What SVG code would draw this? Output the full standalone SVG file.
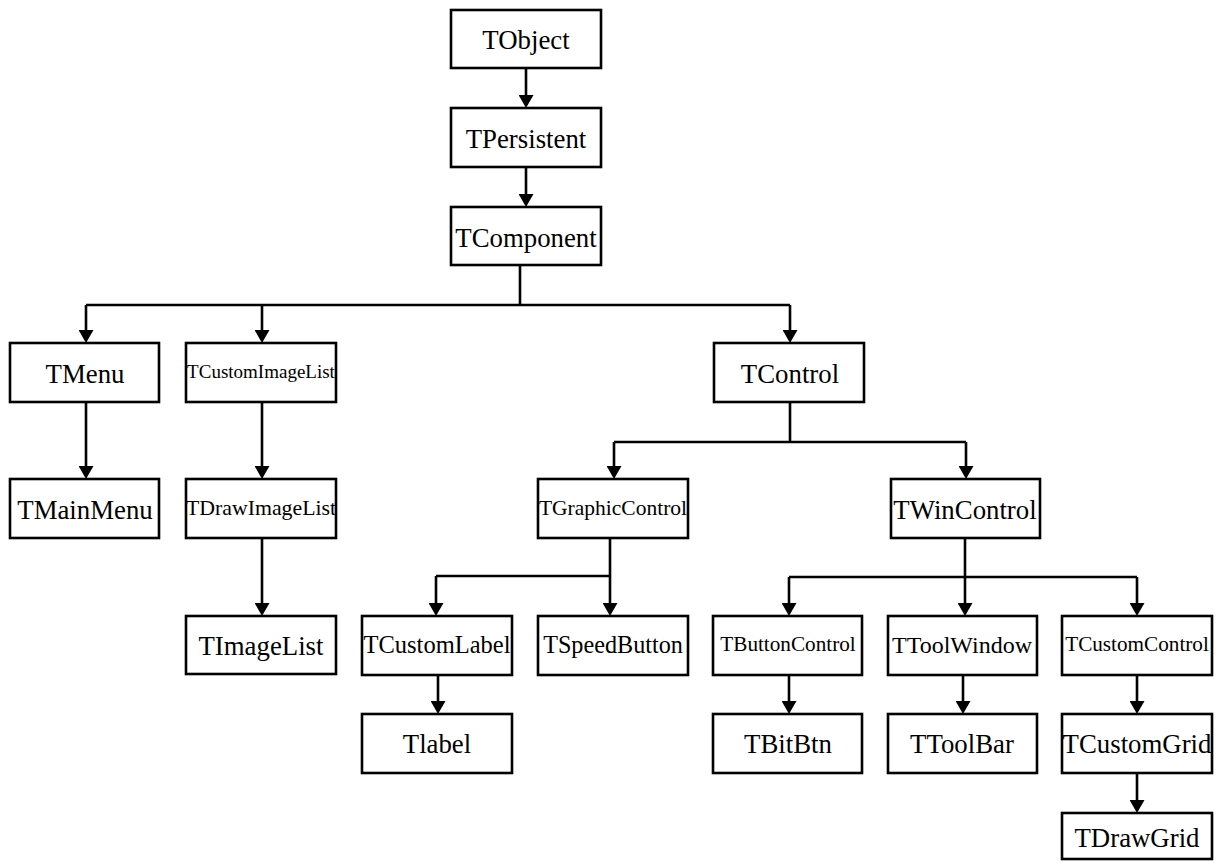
<svg xmlns="http://www.w3.org/2000/svg" width="1219" height="867" viewBox="0 0 1219 867">
  <style>
    .box { fill: #ffffff; stroke: #000000; stroke-width: 2.6; }
    .lbl { font-family: "Liberation Serif", "Times New Roman", serif; fill: #000000; text-anchor: middle; font-size: 26.8px; }
    .wire { fill: none; stroke: #000000; stroke-width: 2.6; }
    .arr { marker-end: url(#head); }
  </style>
  <defs>
    <!-- arrow tip lands 6px beyond the end of its line -->
    <marker id="head" viewBox="0 0 13 15" refX="7" refY="7.5" markerWidth="13" markerHeight="15" markerUnits="userSpaceOnUse" orient="auto">
      <path d="M0,0 L13,7.5 L0,15 Z" fill="#000000"/>
    </marker>
  </defs>
  <rect width="1219" height="867" fill="#ffffff"/>

  <!-- connectors -->
  <g id="connectors">
    <line class="wire arr" x1="526" y1="68" x2="526" y2="102"/>
    <line class="wire arr" x1="526" y1="167" x2="526" y2="201"/>

    <path class="wire" d="M520,265 V305 M86,305 H790"/>
    <line class="wire arr" x1="86" y1="305" x2="86" y2="337"/>
    <line class="wire arr" x1="262" y1="305" x2="262" y2="337"/>
    <line class="wire arr" x1="790" y1="305" x2="790" y2="337"/>

    <line class="wire arr" x1="86" y1="402" x2="86" y2="473"/>
    <line class="wire arr" x1="262" y1="402" x2="262" y2="473"/>
    <line class="wire arr" x1="262" y1="538" x2="262" y2="610"/>

    <path class="wire" d="M790,402 V442 M614,442 H966"/>
    <line class="wire arr" x1="614" y1="442" x2="614" y2="473"/>
    <line class="wire arr" x1="966" y1="442" x2="966" y2="473"/>

    <path class="wire" d="M436,576 H610"/>
    <line class="wire arr" x1="610" y1="538" x2="610" y2="610"/>
    <line class="wire arr" x1="436" y1="576" x2="436" y2="610"/>
    <line class="wire arr" x1="438" y1="675" x2="438" y2="708"/>

    <path class="wire" d="M789,577 H1137"/>
    <line class="wire arr" x1="965" y1="538" x2="965" y2="610"/>
    <line class="wire arr" x1="789" y1="577" x2="789" y2="610"/>
    <line class="wire arr" x1="1137" y1="577" x2="1137" y2="610"/>

    <line class="wire arr" x1="789" y1="675" x2="789" y2="708"/>
    <line class="wire arr" x1="963" y1="675" x2="963" y2="708"/>
    <line class="wire arr" x1="1137" y1="675" x2="1137" y2="708"/>
    <line class="wire arr" x1="1137" y1="773" x2="1137" y2="807"/>
  </g>

  <!-- class nodes -->
  <g id="n-tobject"><rect class="box" x="451" y="10" width="150" height="58"/><text class="lbl" x="526" y="49">TObject</text></g>
  <g id="n-tpersistent"><rect class="box" x="451" y="108" width="150" height="59"/><text class="lbl" x="526" y="148">TPersistent</text></g>
  <g id="n-tcomponent"><rect class="box" x="451" y="207" width="150" height="58"/><text class="lbl" x="526" y="247">TComponent</text></g>

  <g id="n-tmenu"><rect class="box" x="10" y="343" width="149" height="59"/><text class="lbl" x="85" y="383">TMenu</text></g>
  <g id="n-tcustomimagelist"><rect class="box" x="186" y="343" width="150" height="59"/><text class="lbl" x="261" y="378" style="font-size:19px">TCustomImageList</text></g>
  <g id="n-tcontrol"><rect class="box" x="714" y="343" width="150" height="59"/><text class="lbl" x="790" y="383">TControl</text></g>

  <g id="n-tmainmenu"><rect class="box" x="10" y="479" width="149" height="59"/><text class="lbl" x="85" y="519">TMainMenu</text></g>
  <g id="n-tdrawimagelist"><rect class="box" x="186" y="479" width="150" height="59"/><text class="lbl" x="261" y="515" style="font-size:21.8px">TDrawImageList</text></g>
  <g id="n-tgraphiccontrol"><rect class="box" x="538" y="479" width="150" height="59"/><text class="lbl" x="613" y="515" style="font-size:21.5px">TGraphicControl</text></g>
  <g id="n-twincontrol"><rect class="box" x="891" y="479" width="149" height="59"/><text class="lbl" x="965" y="519">TWinControl</text></g>

  <g id="n-timagelist"><rect class="box" x="186" y="616" width="150" height="58"/><text class="lbl" x="261" y="655">TImageList</text></g>
  <g id="n-tcustomlabel"><rect class="box" x="362" y="616" width="150" height="59"/><text class="lbl" x="437" y="653" style="font-size:24.5px">TCustomLabel</text></g>
  <g id="n-tspeedbutton"><rect class="box" x="538" y="616" width="150" height="59"/><text class="lbl" x="613" y="653" style="font-size:24.2px">TSpeedButton</text></g>
  <g id="n-tbuttoncontrol"><rect class="box" x="713" y="616" width="149" height="59"/><text class="lbl" x="788" y="651" style="font-size:21.2px">TButtonControl</text></g>
  <g id="n-ttoolwindow"><rect class="box" x="888" y="616" width="149" height="59"/><text class="lbl" x="962" y="653" style="font-size:24px">TToolWindow</text></g>
  <g id="n-tcustomcontrol"><rect class="box" x="1062" y="616" width="150" height="59"/><text class="lbl" x="1137" y="651" style="font-size:21.2px">TCustomControl</text></g>

  <g id="n-tlabel"><rect class="box" x="362" y="714" width="150" height="59"/><text class="lbl" x="437" y="753">Tlabel</text></g>
  <g id="n-tbitbtn"><rect class="box" x="713" y="714" width="149" height="59"/><text class="lbl" x="788" y="753">TBitBtn</text></g>
  <g id="n-ttoolbar"><rect class="box" x="888" y="714" width="149" height="59"/><text class="lbl" x="962" y="753">TToolBar</text></g>
  <g id="n-tcustomgrid"><rect class="box" x="1062" y="714" width="150" height="59"/><text class="lbl" x="1137" y="753">TCustomGrid</text></g>

  <g id="n-tdrawgrid"><rect class="box" x="1062" y="813" width="150" height="46"/><text class="lbl" x="1137" y="847">TDrawGrid</text></g>
</svg>
